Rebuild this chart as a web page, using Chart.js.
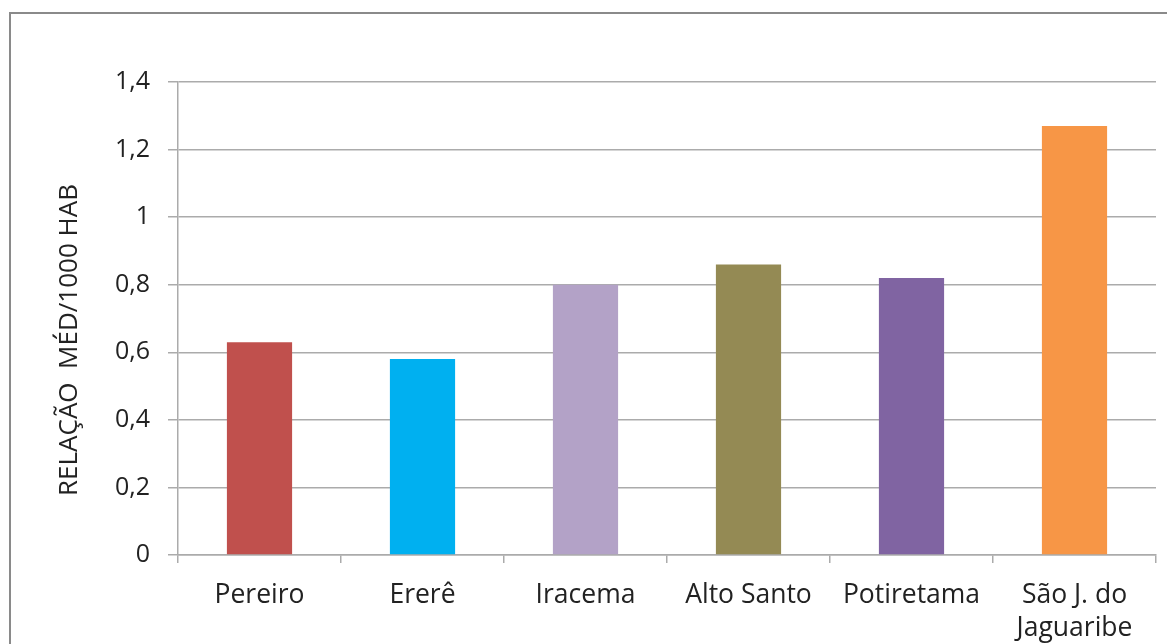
<!DOCTYPE html>
<html>
<head>
<meta charset="utf-8">
<script src="https://cdn.jsdelivr.net/npm/chart.js@4/dist/chart.umd.min.js"></script>
<style>
  html, body { margin: 0; padding: 0; background: #fff; overflow: hidden; }
  #wrap { position: relative; width: 1167px; height: 644px; }
  #frame { position: absolute; left: 9px; top: 12px; width: 2000px; height: 2000px; border: 2px solid #8a8a8a; box-sizing: border-box; }
  canvas { position: absolute; left: 0; top: 0; }
</style>
</head>
<body>
<div id="wrap">
  <div id="frame"></div>
  <canvas id="c" width="1167" height="644"></canvas>
</div>
<script>
const categories = ['Pereiro', 'Ererê', 'Iracema', 'Alto Santo', 'Potiretama', ['São J. do', 'Jaguaribe']];
const values = [0.63, 0.58, 0.80, 0.86, 0.82, 1.27];
const barColors = ['#C0504D', '#00B0F0', '#B3A2C7', '#948A54', '#8064A2', '#F79646'];
const yTickLabels = ['0', '0,2', '0,4', '0,6', '0,8', '1', '1,2', '1,4'];
const yTitle = 'RELAÇÃO  MÉD/1000 HAB';

const FONT = '"Open Sans", "Liberation Sans", sans-serif';
const TEXT = '#222';
const GRID = '#ababab';

const yTitlePlugin = {
  id: 'yTitle',
  afterDraw(chart) {
    const ctx = chart.ctx;
    ctx.save();
    ctx.translate(70, 340);
    ctx.rotate(-Math.PI / 2);
    ctx.font = '26px ' + FONT;
    ctx.fillStyle = TEXT;
    ctx.textAlign = 'center';
    ctx.textBaseline = 'middle';
    ctx.fillText(yTitle, 0, 0);
    ctx.restore();
  }
};

new Chart(document.getElementById('c'), {
  type: 'bar',
  data: {
    labels: categories,
    datasets: [{
      data: values,
      backgroundColor: barColors,
      borderWidth: 0,
      categoryPercentage: 0.4,
      barPercentage: 1.0
    }]
  },
  options: {
    responsive: false,
    animation: false,
    devicePixelRatio: 1,
    layout: { padding: { left: 0, top: 82, right: 11, bottom: 0 } },
    plugins: { legend: { display: false }, tooltip: { enabled: false }, title: { display: false } },
    scales: {
      x: {
        afterFit(scale) { scale.height = 89; },
        grid: {
          display: true,
          drawOnChartArea: false,
          drawTicks: true,
          tickLength: 8,
          offset: true,
          color: GRID,
          lineWidth: 1.5
        },
        border: { display: true, color: GRID, width: 1.5 },
        ticks: {
          font: { family: FONT, size: 26.5, lineHeight: 1.28 },
          color: TEXT,
          padding: 15,
          maxRotation: 0,
          autoSkip: false
        }
      },
      y: {
        min: 0,
        max: 1.4,
        afterFit(scale) { scale.width = 178; },
        grid: {
          color: GRID,
          lineWidth: 1.5,
          drawTicks: true,
          tickLength: 10
        },
        border: { display: true, color: GRID, width: 1.5 },
        ticks: {
          stepSize: 0.2,
          font: { family: FONT, size: 25 },
          color: TEXT,
          padding: 18,
          callback: (v, i) => yTickLabels[i]
        }
      }
    }
  },
  plugins: [yTitlePlugin]
});
</script>
</body>
</html>
